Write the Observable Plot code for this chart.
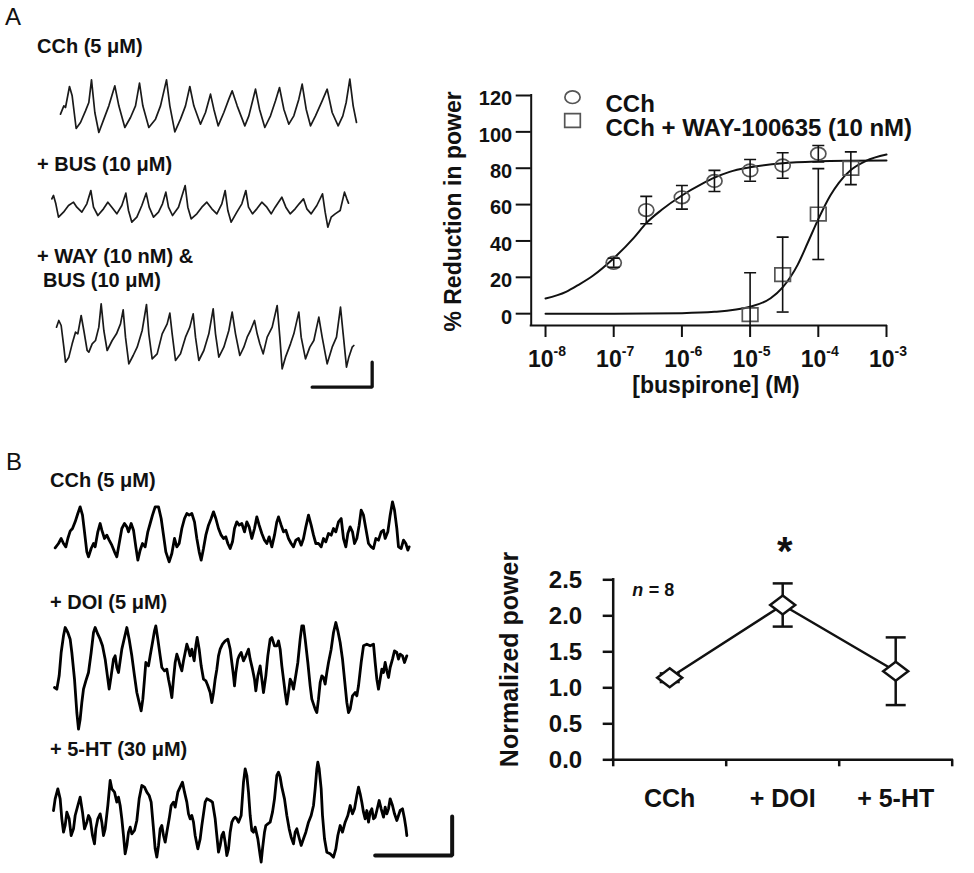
<!DOCTYPE html>
<html><head><meta charset="utf-8">
<script src="https://cdn.jsdelivr.net/npm/d3@7"></script>
<script src="https://cdn.jsdelivr.net/npm/@observablehq/plot@0.6"></script>
<style>
body{margin:0;background:#fff;}
#fig{position:relative;width:974px;height:873px;overflow:hidden;background:#fff;font-family:"Liberation Sans",Arial,Helvetica,sans-serif;color:#111;}
.lbl{position:absolute;white-space:nowrap;line-height:1;}
.slot{position:absolute;}
.slot svg{max-width:none !important;}
</style></head><body><div id="fig"></div>
<script>
// ---------- Panel A: traces (time in samples, amplitude in arbitrary units) ----------
const traceA1 = [[15,73],[25,98],[30,93],[42,156],[50,128],[62,30],[75,48],[90,83],[100,108],[108,176],[118,78],[130,18],[145,58],[160,98],[178,158],[190,98],[208,33],[225,63],[240,98],[252,166],[262,98],[280,33],[300,58],[315,98],[333,176],[343,98],[358,20],[375,58],[390,98],[403,156],[415,98],[435,43],[450,78],[465,133],[475,88],[488,38],[505,78],[520,118],[530,143],[545,98],[568,38],[580,68],[600,148],[612,88],[628,33],[645,68],[660,113],[672,153],[685,88],[700,43],[715,68],[730,118],[740,163],[752,88],[765,38],[780,68],[800,113],[815,148],[830,78],[848,38],[862,68],[872,108],[883,178],[893,98],[903,48]];
const traceA2 = [[10,110],[15,120],[22,95],[30,55],[45,70],[60,90],[75,100],[85,85],[100,70],[115,95],[127,135],[135,85],[148,60],[165,80],[178,100],[190,85],[205,65],[220,90],[232,127],[240,75],[250,40],[265,55],[280,90],[293,127],[302,85],[315,55],[330,70],[342,95],[352,130],[360,85],[372,60],[390,85],[410,150],[418,85],[428,50],[445,65],[460,85],[475,100],[490,80],[505,65],[520,95],[530,135],[538,75],[548,40],[565,70],[580,95],[592,135],[600,85],[612,65],[625,80],[640,100],[655,85],[668,65],[680,85],[700,115],[712,85],[725,65],[740,80],[752,95],[765,110],[775,80],[788,65],[805,90],[822,125],[830,70],[838,25],[848,55],[860,65],[875,75],[888,130],[895,110],[900,97]];
const traceA3 = [[18,196],[25,216],[32,201],[40,136],[45,91],[55,106],[65,146],[75,181],[82,176],[92,231],[100,186],[110,126],[115,121],[125,146],[135,156],[145,196],[152,266],[160,186],[170,126],[185,156],[198,176],[210,206],[218,248],[225,166],[235,86],[248,111],[260,136],[275,186],[288,264],[295,176],[305,101],[320,116],[335,176],[350,206],[358,238],[365,176],[375,96],[390,116],[405,166],[418,196],[428,236],[435,166],[445,96],[460,126],[475,176],[488,251],[495,176],[505,106],[520,136],[535,186],[545,241],[555,176],[568,111],[580,136],[590,166],[600,186],[612,216],[620,176],[628,146],[638,116],[650,166],[665,196],[680,261],[688,166],[695,71],[705,106],[720,146],[730,176],[745,241],[752,166],[765,101],[778,136],[790,156],[805,226],[815,166],[830,86],[845,136],[858,166],[870,256],[878,176],[888,76],[895,106],[905,136],[910,141]];
const scaleBarA = [[785,16],[965,16],[965,91]];

// ---------- Panel B: traces ----------
const traceB1 = [[20,68],[30,81],[38,96],[45,81],[52,71],[58,96],[65,118],[72,126],[80,146],[88,171],[95,191],[102,166],[108,116],[115,56],[120,41],[128,66],[135,81],[140,71],[148,116],[155,141],[160,121],[168,96],[175,106],[182,91],[190,76],[198,56],[205,41],[212,81],[220,126],[228,141],[235,131],[240,116],[248,141],[255,121],[262,71],[268,31],[275,61],[282,81],[290,71],[298,116],[305,141],[312,166],[320,191],[330,191],[338,156],[345,106],[352,56],[362,26],[370,51],[378,96],[385,71],[392,81],[400,126],[408,156],[415,171],[422,166],[430,171],[438,146],[445,96],[452,56],[458,31],[465,66],[472,106],[480,136],[488,156],[495,176],[502,156],[510,126],[518,106],[525,96],[532,101],[538,81],[545,66],[552,86],[558,126],[565,146],[572,136],[580,141],[588,116],[595,146],[602,131],[610,96],[618,126],[625,161],[632,136],[640,111],[648,91],[655,81],[662,101],[670,71],[678,106],[685,146],[690,161],[698,136],[705,116],[712,121],[720,96],[728,81],[735,71],[742,91],[750,96],[758,76],[765,96],[772,131],[780,166],[788,136],[795,106],[802,81],[810,81],[818,71],[825,96],[832,86],[840,111],[848,106],[855,126],[862,116],[870,146],[878,156],[885,96],[892,71],[898,111],[905,131],[912,116],[918,81],[925,96],[932,136],[938,181],[945,166],[952,126],[960,81],[968,71],[975,66],[982,96],[990,91],[998,116],[1005,121],[1010,96],[1018,116],[1025,166],[1032,206],[1038,181],[1045,126],[1050,71],[1058,66],[1065,91],[1072,81],[1078,61],[1082,71]];
const traceB2 = [[18,150],[25,145],[32,185],[38,255],[45,305],[50,330],[58,315],[65,295],[70,255],[78,175],[85,75],[90,25],[95,55],[100,105],[105,145],[112,170],[120,195],[128,255],[135,315],[140,330],[148,310],[155,295],[162,275],[170,235],[178,175],[182,145],[188,185],[195,235],[200,245],[205,210],[210,195],[215,230],[220,265],[228,300],[235,330],[242,295],[250,245],[258,185],[265,135],[272,105],[278,80],[283,115],[288,175],[292,225],[300,215],[305,245],[312,285],[318,320],[322,335],[328,295],[335,245],[340,210],[348,200],[355,205],[360,175],[365,150],[370,120],[375,175],[380,225],[385,250],[390,235],[395,215],[400,200],[405,230],[410,255],[415,280],[420,265],[425,245],[430,265],[437,230],[442,275],[446,300],[452,265],[458,215],[465,175],[472,170],[478,155],[485,135],[490,105],[495,135],[500,175],[505,205],[510,245],[515,265],[522,280],[530,290],[538,295],[545,265],[550,225],[555,185],[558,155],[562,195],[568,235],[572,245],[578,255],[585,230],[592,245],[600,265],[605,235],[612,205],[618,175],[622,140],[628,185],[635,215],[640,175],[645,135],[652,185],[658,245],[665,295],[670,300],[678,275],[685,275],[690,290],[695,265],[700,215],[705,175],[710,135],[715,100],[720,135],[725,175],[730,165],[735,145],[740,175],[748,225],[755,295],[760,335],[765,335],[770,295],[778,225],[785,155],[790,115],[800,85],[805,75],[810,115],[815,165],[820,185],[825,180],[830,160],[835,195],[840,225],[848,265],[855,315],[862,345],[868,320],[875,285],[882,235],[888,175],[895,105],[900,75],[905,85],[912,125],[920,135],[925,125],[930,155],[938,225],[945,275],[955,280],[965,275],[975,280],[980,225],[985,175],[990,145],[995,175],[1000,205],[1005,195],[1010,225],[1015,200],[1020,180],[1025,210],[1032,235],[1038,260],[1045,255],[1050,235],[1055,250],[1062,245],[1068,225],[1075,245]];
const traceB3 = [[15,165],[20,200],[28,230],[35,200],[40,140],[45,100],[50,120],[55,160],[62,140],[68,90],[75,110],[80,150],[88,180],[95,205],[102,160],[108,110],[115,130],[120,150],[125,140],[132,90],[138,65],[142,110],[148,140],[155,155],[160,130],[165,90],[170,110],[178,180],[185,255],[190,230],[198,220],[205,190],[210,205],[215,180],[220,140],[225,90],[230,35],[235,60],[240,100],[245,115],[250,95],[258,105],[265,135],[272,200],[280,240],[288,235],[295,220],[302,210],[308,190],[315,110],[320,50],[325,25],[330,60],[335,110],[340,120],[345,90],[350,70],[355,100],[362,140],[368,180],[375,190],[380,175],[388,220],[395,235],[402,250],[408,220],[415,190],[420,155],[425,140],[430,150],[435,130],[440,90],[448,50],[455,80],[460,120],[465,155],[470,190],[475,200],[485,195],[492,190],[500,140],[505,90],[510,40],[515,60],[520,90],[525,100],[530,70],[535,30],[540,50],[545,100],[550,130],[555,140],[560,145],[565,140],[570,130],[578,150],[585,250],[590,290],[595,270],[600,220],[605,150],[610,105],[615,100],[620,115],[628,80],[635,30],[638,10],[642,50],[648,100],[652,120],[658,125],[665,130],[672,160],[678,200],[685,270],[690,280],[695,265],[700,235],[708,200],[715,150],[722,110],[728,85],[735,65],[740,100],[745,110],[750,90],[758,60],[765,80],[772,100],[780,130],[788,150],[795,180],[800,230],[805,290],[808,310],[812,290],[818,230],[822,150],[828,80],[835,40],[845,35],[855,25],[862,50],[868,90],[875,120],[882,100],[890,130],[898,150],[905,180],[912,155],[918,170],[925,210],[930,235],[935,215],[940,190],[945,160],[950,140],[955,165],[960,130],[965,160],[970,170],[975,140],[980,145],[985,165],[992,195],[998,170],[1005,145],[1010,175],[1015,155],[1020,170],[1025,200],[1032,180],[1038,155],[1045,135],[1050,150],[1055,165],[1062,170],[1068,140],[1072,115],[1075,90]];
const scaleBarB = [[980,30],[1211,30],[1211,147]];

// ---------- Panel A: concentration-response ----------
const concCCh = [1e-7, 3e-7, 1e-6, 3e-6, 1e-5, 3e-5, 1e-4];
const reductionCCh = [28, 57, 64, 73, 78.8, 81.5, 88];
const semCCh = [2.5, 7.5, 6.5, 5.8, 6, 7, 4.5];
const concWAY = [1e-5, 3e-5, 1e-4, 3e-4];
const reductionWAY = [-0.5, 21.5, 54.8, 80];
const semWAY = [23, 20.6, 25, 9];
const fitConcCCh = [1e-8, 2e-8, 3e-8, 5e-8, 1e-7, 2e-7, 3e-7, 5e-7, 1e-6, 2e-6, 3e-6, 5e-6, 1e-5, 3e-5, 1e-4, 3e-4, 1e-3];
const fitCCh = [8.3, 12, 15.7, 21, 30.5, 42, 49.8, 57, 65, 71.5, 74.8, 78, 80.5, 82.8, 83.8, 84.1, 84.2];
const fitConcWAY = [1e-8, 1e-7, 1e-6, 3e-6, 1e-5, 2e-5, 3e-5, 5e-5, 7e-5, 1e-4, 1.5e-4, 2e-4, 3e-4, 5e-4, 1e-3];
const fitWAY = [0, 0, 0.3, 1, 3.8, 8.5, 14.5, 27, 39, 52, 65, 72, 79, 84, 87.5];
const decadeTicks = [1e-8, 1e-7, 1e-6, 1e-5, 1e-4, 1e-3];
const decadeExponents = ["-8", "-7", "-6", "-5", "-4", "-3"];
const pctTicks = [0, 20, 40, 60, 80, 100, 120];
const seriesNames = ["CCh", "CCh + WAY-100635 (10 nM)"];

// ---------- Panel B: normalized power ----------
const conditions = ["CCh", "+ DOI", "+ 5-HT"];
const normPower = [1.14, 2.15, 1.23];
const normSem = [0.06, 0.3, 0.47];
const significant = [false, true, false];
const powerTicks = [0, 0.5, 1, 1.5, 2, 2.5];
const nCells = 8;

// ---------- helpers ----------
const FONT = "'Liberation Sans', Arial, Helvetica, sans-serif";
const fig = document.getElementById("fig");
function put(node, left, top, w, h) {
  const d = document.createElement("div");
  d.className = "slot";
  Object.assign(d.style, {left: left + "px", top: top + "px", width: w + "px", height: h + "px"});
  d.appendChild(node);
  fig.appendChild(d);
}
function label(text, x, baseline, size, weight = "bold") {
  const d = document.createElement("div");
  d.className = "lbl";
  d.textContent = text;
  Object.assign(d.style, {left: x + "px", top: (baseline - 0.8465 * size) + "px", fontSize: size + "px", fontWeight: weight});
  fig.appendChild(d);
}
const ellipseSym = (rx, ry) => ({draw(c) {
  const k = 0.5523;
  c.moveTo(rx, 0);
  c.bezierCurveTo(rx, ry * k, rx * k, ry, 0, ry);
  c.bezierCurveTo(-rx * k, ry, -rx, ry * k, -rx, 0);
  c.bezierCurveTo(-rx, -ry * k, -rx * k, -ry, 0, -ry);
  c.bezierCurveTo(rx * k, -ry, rx, -ry * k, rx, 0);
  c.closePath();
}});
const rectSym = (hw, hh) => ({draw(c) { c.rect(-hw, -hh, 2 * hw, 2 * hh); }});
const diamondSym = (hw, hh) => ({draw(c) { c.moveTo(0, -hh); c.lineTo(hw, 0); c.lineTo(0, hh); c.lineTo(-hw, 0); c.closePath(); }});
const capSym = (hw) => ({draw(c) { c.moveTo(-hw, 0); c.lineTo(hw, 0); }});

function tracePlot(points, w, h, stroke, sw, bar, barW) {
  const marks = [Plot.line(points, {x: d => d[0], y: d => d[1], stroke, strokeWidth: sw, strokeLinejoin: "round", strokeLinecap: "round"})];
  if (bar) marks.push(Plot.line(bar, {x: d => d[0], y: d => d[1], stroke: "#111", strokeWidth: barW, strokeLinejoin: "miter"}));
  return Plot.plot({
    width: w, height: h, margin: 0,
    x: {domain: [0, w * 3], axis: null},
    y: {domain: [0, h * 3], axis: null},
    style: {background: "transparent", overflow: "visible"},
    marks
  });
}

// ---------- panel letters & trace labels ----------
label("A", 5, 25, 24, "normal");
label("B", 6, 470, 24, "normal");
label("CCh (5 μM)", 37, 53, 20);
label("+ BUS (10 μM)", 37, 171, 20);
label("+ WAY (10 nM) &", 37, 263, 20);
label("BUS (10 μM)", 43, 287, 20);
label("CCh (5 μM)", 50, 487, 20);
label("+ DOI (5 μM)", 50, 609, 20);
label("+ 5-HT (30 μM)", 50, 756, 20);

// ---------- traces ----------
put(tracePlot(traceA1, 310, 66, "#1a1a1a", 1.7), 55, 72, 310, 66);
put(tracePlot(traceA2, 310, 55, "#1a1a1a", 1.7), 48, 180, 310, 55);
put(tracePlot(traceA3, 330, 92, "#1a1a1a", 1.7, scaleBarA, 3.3), 50, 300, 330, 92);
put(tracePlot(traceB1, 370, 82, "#000", 2.8), 48, 488, 370, 82);
put(tracePlot(traceB2, 370, 125, "#000", 2.8), 48, 612, 370, 125);
put(tracePlot(traceB3, 412, 110, "#000", 2.8, scaleBarB, 4), 48, 755, 412, 110);

// ---------- chart A ----------
const xMinA = 10 ** -8.21, yMinA = -6.5;
const rowsCCh = concCCh.map((c, i) => ({c, m: reductionCCh[i], e: semCCh[i]}));
const rowsWAY = concWAY.map((c, i) => ({c, m: reductionWAY[i], e: semWAY[i]}));
const fitRowsCCh = fitConcCCh.map((c, i) => ({c, m: fitCCh[i]}));
const fitRowsWAY = fitConcWAY.map((c, i) => ({c, m: fitWAY[i]}));
const circ = ellipseSym(7.6, 6.3), sq = rectSym(7.8, 6.8), capA = capSym(6);
const errMarks = (rows) => [
  Plot.ruleX(rows, {x: "c", y1: d => d.m - d.e, y2: d => d.m + d.e, stroke: "#111", strokeWidth: 1.6, clip: true}),
  Plot.dot(rows, {x: "c", y: d => d.m + d.e, symbol: capA, stroke: "#111", fill: "none", strokeWidth: 1.6, clip: true}),
  Plot.dot(rows, {x: "c", y: d => d.m - d.e, symbol: capA, stroke: "#111", fill: "none", strokeWidth: 1.6, clip: true})
];
const chartA = Plot.plot({
  width: 554, height: 320,
  marginLeft: 110.7, marginRight: 88, marginTop: 15, marginBottom: 75,
  x: {type: "log", domain: [xMinA, 1e-3]},
  y: {domain: [yMinA, 120]},
  style: {fontFamily: FONT, fontWeight: "bold", color: "#111", background: "transparent", overflow: "visible"},
  marks: [
    Plot.line(fitRowsCCh, {x: "c", y: "m", curve: "monotone-x", stroke: "#111", strokeWidth: 2}),
    Plot.line(fitRowsWAY, {x: "c", y: "m", curve: "monotone-x", stroke: "#111", strokeWidth: 2}),
    Plot.dot(rowsCCh, {x: "c", y: "m", symbol: circ, stroke: "#555", fill: "none", strokeWidth: 1.7}),
    Plot.dot(rowsWAY, {x: "c", y: "m", symbol: sq, stroke: "#555", fill: "none", strokeWidth: 1.7}),
    ...errMarks(rowsCCh),
    ...errMarks(rowsWAY),
    Plot.ruleX([xMinA], {y1: yMinA, y2: 120, stroke: "#111", strokeWidth: 2, strokeLinecap: "square"}),
    Plot.ruleY([yMinA], {x1: xMinA, x2: 1e-3, stroke: "#111", strokeWidth: 2, strokeLinecap: "square"}),
    Plot.axisY(pctTicks, {tickSize: 15, tickFormat: () => "", strokeWidth: 2, label: null}),
    Plot.text(pctTicks, {y: d => d, frameAnchor: "left", text: d => String(d), textAnchor: "end", dx: -19, dy: 3.5, fontSize: 20}),
    Plot.axisX(decadeTicks, {tickSize: 12, tickFormat: () => "", strokeWidth: 2, label: null}),
    Plot.text(decadeTicks, {x: d => d, frameAnchor: "bottom", text: () => "10", textAnchor: "end", lineAnchor: "bottom", dx: 8, dy: 41, fontSize: 23}),
    Plot.text(decadeTicks, {x: d => d, frameAnchor: "bottom", text: (d, i) => decadeExponents[i], textAnchor: "start", lineAnchor: "bottom", dx: 8, dy: 30, fontSize: 14}),
    Plot.text(["[buspirone] (M)"], {x: () => Math.sqrt(decadeTicks[0] * decadeTicks[decadeTicks.length - 1]), frameAnchor: "bottom", text: d => d, textAnchor: "middle", lineAnchor: "bottom", dy: 67, fontSize: 23}),
    Plot.text(["% Reduction in power"], {frameAnchor: "left", text: d => d, rotate: -90, textAnchor: "middle", lineAnchor: "bottom", dx: -70, dy: 1, fontSize: 23}),
    // legend
    Plot.dot([seriesNames[0]], {frameAnchor: "top-left", dx: 41.3, dy: 1.7, symbol: circ, stroke: "#555", fill: "none", strokeWidth: 1.7}),
    Plot.dot([seriesNames[1]], {frameAnchor: "top-left", dx: 41.3, dy: 25, symbol: sq, stroke: "#555", fill: "none", strokeWidth: 1.7}),
    Plot.text([seriesNames[0]], {frameAnchor: "top-left", text: d => d, textAnchor: "start", lineAnchor: "bottom", dx: 74.3, dy: 16.5, fontSize: 24}),
    Plot.text([seriesNames[1]], {frameAnchor: "top-left", text: d => d, textAnchor: "start", lineAnchor: "bottom", dx: 74.3, dy: 40, fontSize: 24})
  ]
});
put(chartA, 420, 80, 554, 320);

// ---------- chart B ----------
const rowsB = conditions.map((name, i) => ({name, i, m: normPower[i], e: normSem[i], sig: significant[i]}));
const capB = capSym(10), diam = diamondSym(12.5, 9.5);
const chartB = Plot.plot({
  width: 514, height: 383,
  marginLeft: 152.7, marginRight: 22.3, marginTop: 89.3, marginBottom: 113.7,
  x: {domain: [0, conditions.length]},
  y: {domain: [0, 2.5]},
  style: {fontFamily: FONT, fontWeight: "bold", color: "#111", background: "transparent", overflow: "visible"},
  marks: [
    Plot.ruleX([0], {y1: 0, y2: 2.5, stroke: "#111", strokeWidth: 2.5, strokeLinecap: "square"}),
    Plot.ruleY([0], {x1: 0, x2: conditions.length, stroke: "#111", strokeWidth: 2.5, strokeLinecap: "square"}),
    Plot.axisY(powerTicks, {tickSize: 10, tickFormat: () => "", strokeWidth: 2.5, label: null}),
    Plot.text(powerTicks, {y: d => d, frameAnchor: "left", text: d => d.toFixed(1), textAnchor: "end", dx: -31, dy: 1, fontSize: 24}),
    Plot.axisX(d3.range(conditions.length + 1), {tickSize: 7, tickFormat: () => "", strokeWidth: 2.5, label: null}),
    Plot.text(rowsB, {x: d => d.i + 0.5, frameAnchor: "bottom", text: "name", textAnchor: "middle", lineAnchor: "bottom", dy: 47.5, fontSize: 25}),
    Plot.line(rowsB, {x: d => d.i + 0.5, y: "m", stroke: "#111", strokeWidth: 2.5}),
    Plot.ruleX(rowsB, {x: d => d.i + 0.5, y1: d => d.m - d.e, y2: d => d.m + d.e, stroke: "#111", strokeWidth: 2.5}),
    Plot.dot(rowsB, {x: d => d.i + 0.5, y: d => d.m + d.e, symbol: capB, stroke: "#111", fill: "none", strokeWidth: 2.5}),
    Plot.dot(rowsB, {x: d => d.i + 0.5, y: d => d.m - d.e, symbol: capB, stroke: "#111", fill: "none", strokeWidth: 2.5}),
    Plot.dot(rowsB, {x: d => d.i + 0.5, y: "m", symbol: diam, stroke: "#111", fill: "white", strokeWidth: 2.5}),
    Plot.text(rowsB.filter(d => d.sig), {x: d => d.i + 0.5, frameAnchor: "top", text: () => "*", textAnchor: "middle", lineAnchor: "bottom", dx: 2, dy: -14.5, fontSize: 40}),
    Plot.text(["n"], {frameAnchor: "top-left", text: d => d, textAnchor: "start", lineAnchor: "bottom", dx: 19, dy: 15.7, fontSize: 18, fontStyle: "italic"}),
    Plot.text([`= ${nCells}`], {frameAnchor: "top-left", text: d => d, textAnchor: "start", lineAnchor: "bottom", dx: 35.6, dy: 15.7, fontSize: 18}),
    Plot.text(["Normalized power"], {frameAnchor: "left", text: d => d, rotate: -90, textAnchor: "middle", lineAnchor: "bottom", dx: -95.7, dy: -10.3, fontSize: 25})
  ]
});
put(chartB, 460, 490, 514, 383);
</script></body></html>
